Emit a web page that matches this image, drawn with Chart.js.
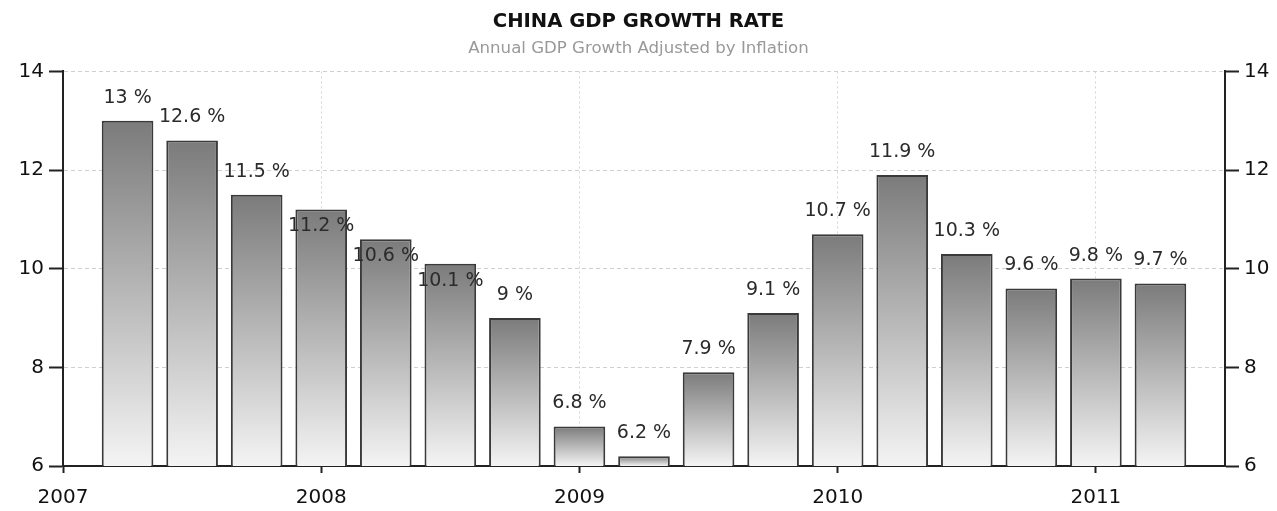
<!DOCTYPE html>
<html>
<head>
<meta charset="utf-8">
<script src="https://cdn.jsdelivr.net/npm/chart.js@4/dist/chart.umd.min.js"></script>
<style>
  html, body { margin: 0; padding: 0; background: #fff; }
  #wrap { width: 1277px; height: 511px; }
</style>
</head>
<body>
<div id="wrap"><canvas id="gdp"></canvas></div>
<script>
// quarterly values, Q1 2007 .. Q1 2011
const quarters = [
  "2007 Q1", "2007 Q2", "2007 Q3", "2007 Q4",
  "2008 Q1", "2008 Q2", "2008 Q3", "2008 Q4",
  "2009 Q1", "2009 Q2", "2009 Q3", "2009 Q4",
  "2010 Q1", "2010 Q2", "2010 Q3", "2010 Q4",
  "2011 Q1",
];
const growth = [13, 12.6, 11.5, 11.2, 10.6, 10.1, 9, 6.8, 6.2, 7.9, 9.1, 10.7, 11.9, 10.3, 9.6, 9.8, 9.7];
const yearLabels = ["2007", "2008", "2009", "2010", "2011"];
const yTicks = [6, 8, 10, 12, 14];

const FONT = "'DejaVu Sans', Verdana, sans-serif";

// bar i sits at the end of its quarter, counted in quarters from start of 2007
const points = growth.map((v, i) => ({ x: i + 1, y: v, q: quarters[i] }));

const barGradient = (ctx) => {
  const chart = ctx.chart;
  const { chartArea, scales } = chart;
  if (!chartArea || ctx.raw === undefined) return "#999";
  const top = scales.y.getPixelForValue(ctx.raw.y);
  const g = chart.ctx.createLinearGradient(0, top, 0, chartArea.bottom);
  g.addColorStop(0, "#7b7b7b");
  g.addColorStop(1, "#f4f4f4");
  return g;
};

// value labels above bars; if one would run into the previous label, drop it inside the bar
const valueLabels = {
  id: "valueLabels",
  afterDatasetsDraw(chart) {
    const ctx = chart.ctx;
    const bars = chart.getDatasetMeta(0).data;
    ctx.save();
    ctx.font = "19px " + FONT;
    ctx.fillStyle = "#2b2b2b";
    ctx.textAlign = "center";
    ctx.textBaseline = "middle";
    let prev = null;
    bars.forEach((bar, i) => {
      const text = growth[i] + " %";
      const w = ctx.measureText(text).width;
      const h = 20;
      let cy = bar.y - 23;
      const box = { l: bar.x - w / 2, r: bar.x + w / 2, t: cy - h / 2, b: cy + h / 2 };
      if (prev && box.l < prev.r && box.t < prev.b && box.b > prev.t) {
        cy = bar.y + 17;
        box.t = cy - h / 2;
        box.b = cy + h / 2;
      }
      ctx.fillText(text, bar.x, cy);
      prev = box;
    });
    ctx.restore();
  },
};

const yAxis = (position, width) => ({
  type: "linear",
  position: position,
  min: 6,
  max: 14,
  afterBuildTicks: (s) => { s.ticks = yTicks.map((v) => ({ value: v })); },
  afterFit: (s) => { s.width = width; },
  grid: {
    display: true,
    drawOnChartArea: position === "left",
    color: "#cfcfcf",
    lineWidth: 1,
    tickColor: "#222",
    tickWidth: 2,
    tickLength: 14,
  },
  border: { display: true, color: "#222", width: 2, dash: [4, 3] },
  ticks: {
    color: "#111",
    padding: 5,
    font: { family: FONT, size: 20 },
  },
});

new Chart(document.getElementById("gdp"), {
  type: "bar",
  data: {
    datasets: [{
      label: "GDP growth",
      data: points,
      backgroundColor: barGradient,
      borderColor: "#3a3a3a",
      borderWidth: 2,
      borderSkipped: false,
      barPercentage: 0.8,
      categoryPercentage: 1,
    }],
  },
  options: {
    responsive: true,
    maintainAspectRatio: false,
    animation: false,
    layout: { padding: { left: 0, right: 0, top: 0, bottom: 0 } },
    plugins: {
      legend: { display: false },
      tooltip: { enabled: false },
      title: {
        display: true,
        text: "CHINA GDP GROWTH RATE",
        color: "#111",
        font: { family: FONT, size: 19.6, weight: "bold" },
        padding: { top: 10, bottom: 5 },
      },
      subtitle: {
        display: true,
        text: "Annual GDP Growth Adjusted by Inflation",
        color: "#999",
        font: { family: FONT, size: 16.6 },
        padding: { top: 0, bottom: 13 },
      },
    },
    scales: {
      x: {
        type: "linear",
        min: 0,
        max: 18,
        offset: false,
        afterBuildTicks: (s) => {
          s.ticks = yearLabels.map((_, i) => ({ value: i * 4 }));
        },
        afterFit: (s) => { s.height = 45; },
        grid: {
          offset: false,
          color: "#d4d4d4",
          lineWidth: 1,
          tickColor: "#222",
          tickWidth: 2,
          tickLength: 7,
        },
        border: { display: true, color: "#222", width: 2, dash: [2, 3] },
        ticks: {
          color: "#111",
          padding: 13,
          font: { family: FONT, size: 20 },
          callback: (v) => yearLabels[v / 4],
        },
      },
      y: yAxis("left", 63),
      y2: yAxis("right", 52),
    },
  },
  plugins: [valueLabels],
});
</script>
</body>
</html>
